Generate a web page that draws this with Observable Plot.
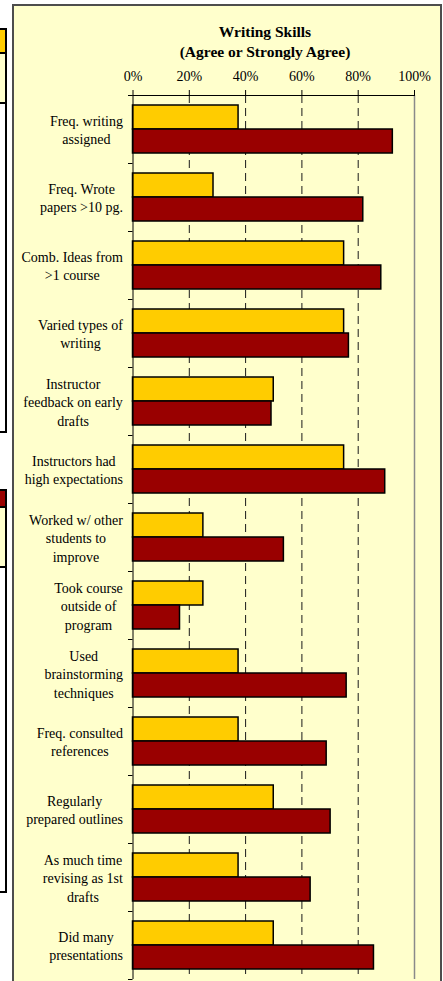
<!DOCTYPE html>
<html><head><meta charset="utf-8">
<script src="https://cdn.jsdelivr.net/npm/d3@7"></script>
<script src="https://cdn.jsdelivr.net/npm/@observablehq/plot@0.6"></script>
<style>
html,body{margin:0;padding:0;background:#fff;overflow:hidden;width:443px;height:981px;}
#stage{position:relative;width:443px;height:981px;overflow:hidden;}
.frag{position:absolute;box-sizing:border-box;border:2px solid #000;left:-3px;width:10px;}
#panel{position:absolute;left:12px;top:4px;width:430px;height:1010px;box-sizing:border-box;border:2px solid #4d4d4d;background:#FFFFCC;}
#title{position:absolute;left:0;width:530px;top:22px;text-align:center;font:bold 15.5px/20px "Liberation Serif","Times New Roman",serif;color:#000;}
#chart{position:absolute;left:0;top:0;}
</style></head><body>
<div id="stage">
  <div class="frag" style="top:102px;height:331px;background:#fff"></div>
  <div class="frag" style="top:52px;height:52px;background:#FFFFCC"></div>
  <div class="frag" style="top:28px;height:26px;background:#FFCC00"></div>
  <div class="frag" style="top:566px;height:327px;background:#fff"></div>
  <div class="frag" style="top:506px;height:62px;background:#FFFFCC"></div>
  <div class="frag" style="top:489px;height:19px;background:#990000"></div>
  <div id="panel"></div>
  <div id="title">Writing Skills<br>(Agree or Strongly Agree)</div>
  <div id="chart"></div>
</div>
<script>
const categories = [
  "Freq. writing\nassigned",
  "Freq. Wrote\npapers >10 pg.",
  "Comb. Ideas from\n>1 course",
  "Varied types of\nwriting",
  "Instructor\nfeedback on early\ndrafts",
  "Instructors had\nhigh expectations",
  "Worked w/ other\nstudents to\nimprove",
  "Took course\noutside of\nprogram",
  "Used\nbrainstorming\ntechniques",
  "Freq. consulted\nreferences",
  "Regularly\nprepared outlines",
  "As much time\nrevising as 1st\ndrafts",
  "Did many\npresentations"
];
const seriesYellow = [37.5, 28.6, 75, 75, 50, 75, 25, 25, 37.5, 37.5, 50, 37.5, 50];
const seriesRed = [92.3, 81.8, 88.2, 76.7, 49.2, 89.6, 53.6, 16.7, 75.9, 68.8, 70.2, 63.1, 85.6];
const xTicks = [0, 20, 40, 60, 80, 100];
const gridValues = [20, 40, 60, 80];

const rows = categories.map((c, i) => ({category: c, yellow: seriesYellow[i], red: seriesRed[i]}));
const font = '"Liberation Serif","Times New Roman",serif';

const chart = Plot.plot({
  width: 443, height: 981,
  marginTop: 95, marginBottom: 2, marginLeft: 132.5, marginRight: 29,
  style: {background: "transparent", fontFamily: font, fontSize: "14px", color: "#000"},
  x: {domain: [0, 100], axis: null},
  y: {domain: categories, padding: 0, axis: null},
  marks: [
    Plot.ruleX(gridValues, {stroke: "#1a1a1a", strokeDasharray: "8,5", strokeWidth: 1}),
    Plot.ruleX([100], {stroke: "#8a8a8a", strokeWidth: 1.5}),
    Plot.barX(rows, {y: "category", x1: 0, x2: "yellow", fill: "#FFCC00", stroke: "#000", strokeWidth: 1.5, insetTop: 10, insetBottom: 34}),
    Plot.barX(rows, {y: "category", x1: 0, x2: "red", fill: "#990000", stroke: "#000", strokeWidth: 1.5, insetTop: 34, insetBottom: 10}),
    Plot.ruleX([0], {stroke: "#000", strokeWidth: 1}),
    Plot.ruleY(categories, {y: d => d, x1: -1.6, x2: 0, dy: -34, stroke: "#000"}),
    Plot.ruleY([categories[categories.length - 1]], {y: d => d, x1: -1.6, x2: 0, dy: 34, stroke: "#000"}),
    Plot.ruleY([categories[0]], {y: d => d, x1: 0, x2: 100, dy: -34, stroke: "#000"}),
    Plot.axisX({anchor: "top", ticks: xTicks, tickSize: 6, tickPadding: 9, tickFormat: d => d + "%", fontSize: 14}),
    Plot.text(rows, {x: 0, y: "category", text: "category", textAnchor: "end", dx: -10, lineHeight: 1.3, fontSize: 14, fill: "#000"})
  ]
});
document.getElementById("chart").appendChild(chart);

// center the wrapped lines of each category label (right edge kept fixed)
chart.querySelectorAll('g[aria-label="text"] text').forEach(t => {
  const w = t.getBBox().width;
  t.setAttribute("text-anchor", "middle");
  const spans = t.querySelectorAll("tspan");
  if (spans.length) spans.forEach(s => s.setAttribute("x", -w / 2));
  else t.setAttribute("x", -w / 2);
});
</script>
</body></html>
